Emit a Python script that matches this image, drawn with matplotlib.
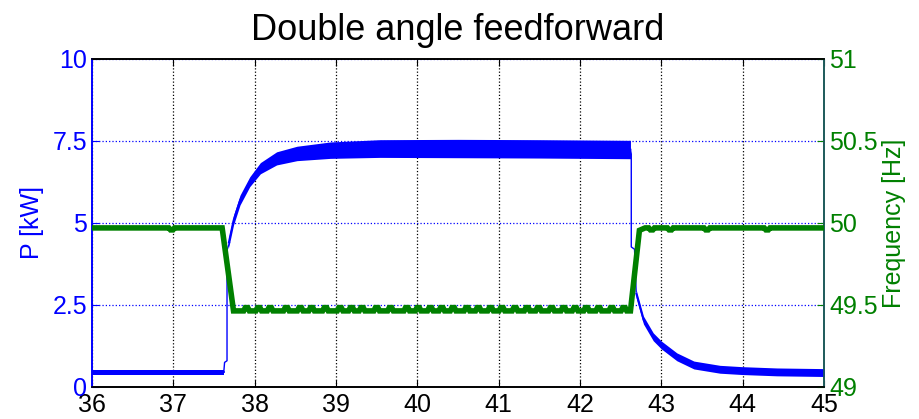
import matplotlib
matplotlib.use("Agg")
import matplotlib.pyplot as plt
import numpy as np

plt.rcParams['font.family'] = ['Liberation Sans', 'DejaVu Sans']

# ---------------- data ----------------
# Active power P [kW]: noisy band = centre +/- half width
t_p_low = [36.0, 37.62]
p_low = [0.45, 0.45]
w_low = [0.07, 0.07]

t_jump_up = [37.62, 37.63, 37.66, 37.66, 37.69]
p_jump_up = [0.45, 0.75, 0.80, 4.17, 4.40]

t_p_rise = [37.68, 37.74, 37.82, 37.94, 38.07, 38.27, 38.52, 38.93, 39.54, 40.5, 41.5, 42.62]
p_rise = [4.40, 5.09, 5.70, 6.26, 6.67, 6.97, 7.12, 7.22, 7.27, 7.27, 7.26, 7.24]
w_rise = [0.15, 0.15, 0.15, 0.15, 0.17, 0.20, 0.22, 0.25, 0.27, 0.28, 0.28, 0.28]

t_jump_down = [42.62, 42.63, 42.63, 42.67, 42.69]
p_jump_down = [7.24, 7.10, 4.27, 4.20, 2.90]

t_p_decay = [42.69, 42.78, 42.90, 43.00, 43.19, 43.40, 43.72, 43.99, 44.42, 45.0]
p_decay = [2.85, 2.04, 1.53, 1.28, 0.92, 0.67, 0.54, 0.50, 0.46, 0.44]
w_decay = [0.12, 0.12, 0.12, 0.12, 0.12, 0.12, 0.12, 0.12, 0.12, 0.12]

# Frequency [Hz]: levels and transitions
t_f = [36.0, 37.60, 37.74, 42.62, 42.73, 42.80, 45.0]
f = [49.97, 49.97, 49.464, 49.464, 49.955, 49.97, 49.97]
# small periodic bumps on the low level and notches on the high level
bump_times = [37.90, 38.05, 38.19, 38.39, 38.56, 38.70, 38.87, 39.05, 39.19, 39.32,
              39.50, 39.67, 39.87, 40.01, 40.16, 40.30, 40.44, 40.61, 40.75, 40.90,
              41.04, 41.20, 41.35, 41.49, 41.65, 41.80, 41.94, 42.08, 42.23, 42.39, 42.54]
bump_height = 0.02
dip_times = [36.98, 42.88, 43.11, 43.56, 44.30]
dip_depth = -0.012

x_ticks = [36, 37, 38, 39, 40, 41, 42, 43, 44, 45]
p_ticks = [0, 2.5, 5, 7.5, 10]
p_tick_labels = ['0', '2.5', '5', '7.5', '10']
f_ticks = [49, 49.5, 50, 50.5, 51]
f_tick_labels = ['49', '49.5', '50', '50.5', '51']

# ---------------- figure ----------------
BLUE = '#0000ff'
GREEN = '#008000'
TEAL = '#1d5a5a'

fig = plt.figure(figsize=(9.2, 4.19), dpi=100)
ax1 = fig.add_axes([0.1, 0.0764, 0.7957, 0.7828])
ax2 = ax1.twinx()

# power band
for tt, pp, ww in [(t_p_low, p_low, w_low), (t_p_rise, p_rise, w_rise), (t_p_decay, p_decay, w_decay)]:
    tt = np.asarray(tt); pp = np.asarray(pp); ww = np.asarray(ww)
    ax1.fill_between(tt, pp - ww, pp + ww, color=BLUE, lw=0, zorder=3)
    ax1.plot(tt, pp, color=BLUE, lw=1.2, zorder=3)
ax1.plot(t_jump_up, p_jump_up, color=BLUE, lw=1.0, zorder=3)
ax1.plot(t_jump_down, p_jump_down, color=BLUE, lw=1.0, zorder=3)

# frequency line with bumps
ft = list(t_f)
fv = list(f)
def add_feature(tc, h):
    base = np.interp(tc, t_f, f)
    for dt, k in [(-0.035, 0.0), (-0.015, 1.0), (0.015, 1.0), (0.035, 0.0)]:
        ft.append(tc + dt)
        fv.append(base + k * h)
for b in bump_times:
    add_feature(b, bump_height)
for d in dip_times:
    add_feature(d, dip_depth)
order = np.argsort(ft, kind='stable')
ft = np.asarray(ft)[order]
fv = np.asarray(fv)[order]
ax2.plot(ft, fv, color=GREEN, lw=4, solid_joinstyle='miter', zorder=3)

# axes limits & ticks
ax1.set_xlim(36, 45)
ax1.set_ylim(0, 10)
ax2.set_ylim(49, 51)
ax1.set_xticks(x_ticks)
ax1.set_xticklabels([str(v) for v in x_ticks])
ax1.set_yticks(p_ticks)
ax1.set_yticklabels(p_tick_labels)
ax2.set_yticks(f_ticks)
ax2.set_yticklabels(f_tick_labels)

ax1.tick_params(axis='x', direction='in', length=5, top=True, labelsize=18,
                pad=4.5, colors='black')
ax1.tick_params(axis='y', direction='in', length=5, labelsize=18, pad=3.5,
                colors=BLUE)
ax2.tick_params(axis='y', direction='in', length=5, labelsize=18, pad=3.5,
                colors=GREEN)

# grid
ax1.grid(axis='x', color='black', linestyle=':', linewidth=0.9)
ax1.grid(axis='y', color=BLUE, linestyle=':', linewidth=0.9)
ax1.set_axisbelow(True)

# spines
for ax in (ax1, ax2):
    ax.spines['top'].set_color('black')
    ax.spines['bottom'].set_color('black')
    ax.spines['left'].set_color(BLUE)
    ax.spines['right'].set_color(TEAL)
    for s in ax.spines.values():
        s.set_linewidth(1.2)

ax1.set_ylabel('P [kW]', color=BLUE, fontsize=18, labelpad=6)
ax2.set_ylabel('Frequency [Hz]', color=GREEN, fontsize=18, labelpad=3)
ax1.set_title('Double angle feedforward', fontsize=26, pad=14)

fig.savefig('out.png', dpi=100)
